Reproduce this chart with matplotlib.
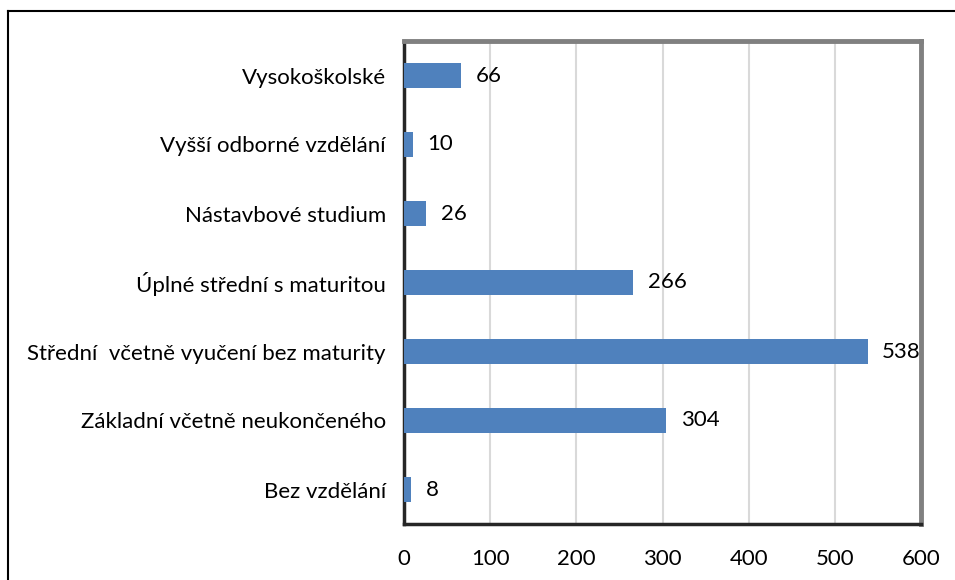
import matplotlib.pyplot as plt
from matplotlib.lines import Line2D

categories = [
    "Bez vzdělání",
    "Základní včetně neukončeného",
    "Střední  včetně vyučení bez maturity",
    "Úplné střední s maturitou",
    "Nástavbové studium",
    "Vyšší odborné vzdělání",
    "Vysokoškolské",
]
counts = [8, 304, 538, 266, 26, 10, 66]
x_ticks = [0, 100, 200, 300, 400, 500, 600]

plt.rcParams["font.family"] = ["Lato", "DejaVu Sans"]

fig = plt.figure(figsize=(9.55, 5.8), dpi=100)
W, H = 955, 580
ax = fig.add_axes([404 / W, 1 - 524 / H, (921 - 404) / W, (524 - 41) / H])

ypos = list(range(len(categories)))
ax.barh(ypos, counts, height=0.35, color="#4F81BD", zorder=3)
for y, v in zip(ypos, counts):
    ax.text(v + 17, y, str(v), va="center", ha="left", fontsize=16, color="black", zorder=4)

ax.set_xlim(0, 600)
ax.set_ylim(-0.5, len(categories) - 0.5)
ax.set_yticks(ypos)
ax.set_yticklabels(categories, fontsize=16)
ax.set_xticks(x_ticks)
ax.set_xticklabels([str(t) for t in x_ticks], fontsize=16)
ax.tick_params(axis="both", length=0)
ax.tick_params(axis="y", pad=13)
ax.tick_params(axis="x", pad=18)
ax.grid(axis="x", color="#D9D9D9", linewidth=1.5, zorder=0)

for side in ["top", "right"]:
    ax.spines[side].set_color("#808080")
    ax.spines[side].set_linewidth(3.5)
for side in ["left", "bottom"]:
    ax.spines[side].set_color("#262626")
    ax.spines[side].set_linewidth(2.5)

# outer chart frame (top and left edges visible)
fig.add_artist(Line2D([8 / W, 8 / W], [0, 1 - 11 / H], transform=fig.transFigure, color="black", linewidth=1.5))
fig.add_artist(Line2D([8 / W, 1], [1 - 11 / H, 1 - 11 / H], transform=fig.transFigure, color="black", linewidth=1.5))

fig.savefig("out.png", dpi=100)
